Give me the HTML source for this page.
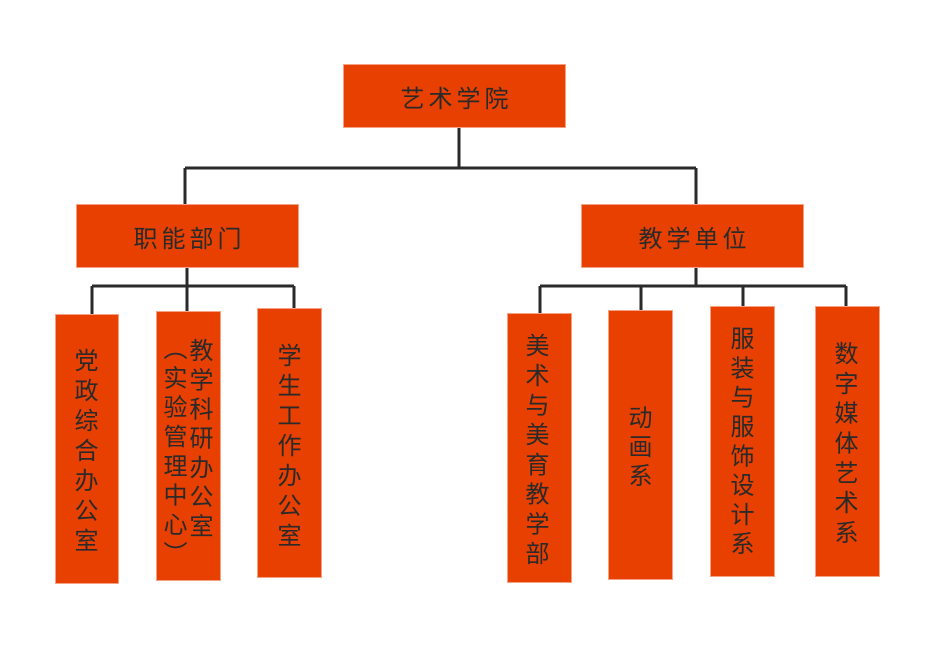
<!DOCTYPE html>
<html><head><meta charset="utf-8"><style>
html,body{margin:0;padding:0;background:#fff;width:927px;height:648px;overflow:hidden;position:relative;font-family:"Liberation Sans","Noto Sans CJK SC",sans-serif;color:#2a2a2a}
.b{position:absolute;background:#e84000;border:1.5px solid #f5a282;box-sizing:border-box}
.h{display:flex;align-items:center;justify-content:center;font-size:24px;letter-spacing:4px;padding-left:4px}
.v{position:absolute;writing-mode:vertical-rl;font-size:24px;line-height:24px;width:24px;white-space:nowrap}
</style></head><body>
<svg width="927" height="648" style="position:absolute;left:0;top:0">
<g stroke="#2a2a2a" stroke-width="3" fill="none">
<path d="M459 127V168M185 168H696M185 168V205M696 168V205"/>
<path d="M187 268V286M92 286H294M92 286V315M187 286V312M294 286V309"/>
<path d="M696 268V286M540 286H846M540 286V314M641 286V311M743 286V307M846 286V307"/>
</g></svg>
<div class="b h" style="left:343px;top:64px;width:223px;height:64px">艺术学院</div>
<div class="b h" style="left:76px;top:204px;width:223px;height:64px">职能部门</div>
<div class="b h" style="left:581px;top:204px;width:223px;height:64px">教学单位</div>

<div class="b" style="left:55px;top:314px;width:64px;height:270px"></div>
<div class="b" style="left:156px;top:311px;width:65px;height:270px"></div>
<div class="b" style="left:257px;top:308px;width:65px;height:270px"></div>
<div class="b" style="left:507px;top:313px;width:65px;height:270px"></div>
<div class="b" style="left:608px;top:310px;width:65px;height:270px"></div>
<div class="b" style="left:710px;top:306px;width:65px;height:271px"></div>
<div class="b" style="left:815px;top:306px;width:65px;height:271px"></div>

<div class="v" style="left:71px;top:348px;letter-spacing:6px">党政综合办公室</div>
<div class="v" style="left:186px;top:338px;letter-spacing:5.2px">教学科研办公室</div>
<div class="v" style="left:160px;top:336px;letter-spacing:5.3px">（实验管理中心）</div>
<div class="v" style="left:274px;top:343px;letter-spacing:6px">学生工作办公室</div>
<div class="v" style="left:522px;top:333px;letter-spacing:5.7px">美术与美育教学部</div>
<div class="v" style="left:625px;top:405px;letter-spacing:5px">动画系</div>
<div class="v" style="left:727px;top:326px;letter-spacing:5.3px">服装与服饰设计系</div>
<div class="v" style="left:831px;top:341px;letter-spacing:5.8px">数字媒体艺术系</div>
</body></html>
